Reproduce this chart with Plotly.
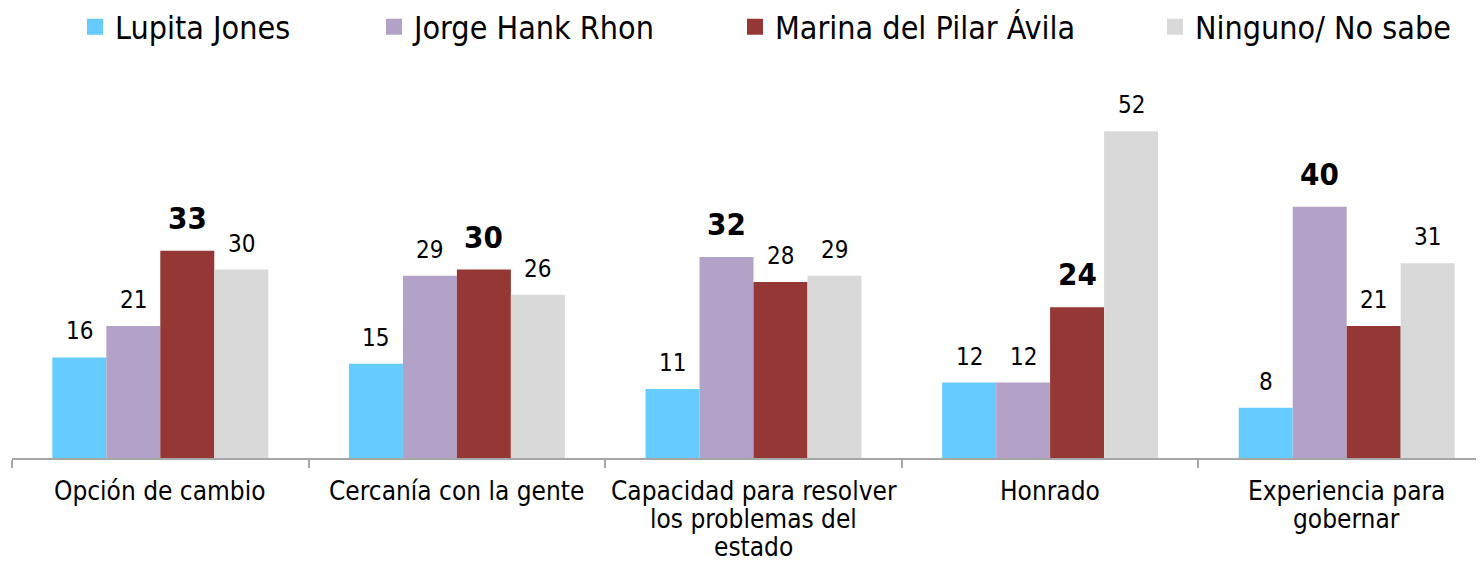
import plotly.graph_objects as go

categories = ["Opción de cambio", "Cercanía con la gente",
              "Capacidad para resolver<br>los problemas del<br>estado",
              "Honrado", "Experiencia para<br>gobernar"]
series_names = ["Lupita Jones", "Jorge Hank Rhon", "Marina del Pilar Ávila", "Ninguno/ No sabe"]
lupita = [16, 15, 11, 12, 8]
jorge = [21, 29, 32, 12, 40]
marina = [33, 30, 28, 24, 21]
ninguno = [30, 26, 29, 52, 31]
colors = ["#66CCFF", "#B3A2C7", "#953735", "#D9D9D9"]

series = [lupita, jorge, marina, ninguno]
FONT = "DejaVu Sans Condensed, DejaVu Sans, sans-serif"
W, H = 1476, 553  # page body has an 8px margin
bargap = 0.272
xs = list(range(len(categories)))
legend_x_px = [67, 366, 727, 1147]

fig = go.Figure()
for name, vals, col in zip(series_names, series, colors):
    fig.add_trace(go.Bar(x=xs, y=vals, name=name, marker=dict(color=col, line=dict(width=0)),
                         showlegend=False, hoverinfo="y"))
legend_layout = {}
for k, (name, col) in enumerate(zip(series_names, colors)):
    lg = "legend" if k == 0 else f"legend{k + 1}"
    fig.add_trace(go.Scatter(x=[None], y=[None], mode="markers", name=name, legend=lg,
                             marker=dict(symbol="square", size=18, color=col)))
    legend_layout[lg] = dict(orientation="h", xref="container", yref="container",
                             x=legend_x_px[k] / W, xanchor="left",
                             y=1 - 19 / H, yanchor="middle",
                             font=dict(family=FONT, size=32, color="#000000"),
                             itemwidth=30,
                             itemclick=False, itemdoubleclick=False,
                             bgcolor="rgba(0,0,0,0)")

annotations = []
bw = (1 - bargap) / 4
for i in xs:
    cand = [series[j][i] for j in range(3)]
    best = cand.index(max(cand))
    for j, vals in enumerate(series):
        bold = (j == best)
        annotations.append(dict(
            x=i + (j - 1.5) * bw, y=vals[i], xref="x", yref="y",
            text=f"<b>{vals[i]}</b>" if bold else str(vals[i]),
            showarrow=False, yanchor="middle", yshift=33 if bold else 26,
            font=dict(family=FONT, size=31 if bold else 24, color="#000000")))
    for k, line in enumerate(categories[i].split("<br>")):
        annotations.append(dict(
            x=i, y=0, xref="x", yref="y", text=line, showarrow=False,
            yanchor="middle", yshift=-33 - 28 * k,
            font=dict(family=FONT, size=26, color="#000000")))

fig.update_layout(
    width=W, height=H,
    margin=dict(l=4, r=0, t=73, b=103, autoexpand=False),
    plot_bgcolor="white", paper_bgcolor="white",
    barmode="group", bargap=bargap, bargroupgap=0,
    font=dict(family=FONT, size=22, color="#000000"),
    annotations=annotations,
    **legend_layout,
)
fig.update_xaxes(range=[-0.5, -0.5 + 1472 / 296.6], tickvals=xs, showticklabels=False,
                 ticks="", showline=True, linecolor="#A6A6A6", linewidth=1.5,
                 showgrid=False, zeroline=False, fixedrange=True,
                 minor=dict(ticks="outside", tick0=-0.5, dtick=1, ticklen=8,
                            tickcolor="#A6A6A6", tickwidth=1.5, showgrid=False))
fig.update_yaxes(range=[0, 60], visible=False, fixedrange=True)

fig.write_html("out.html")
